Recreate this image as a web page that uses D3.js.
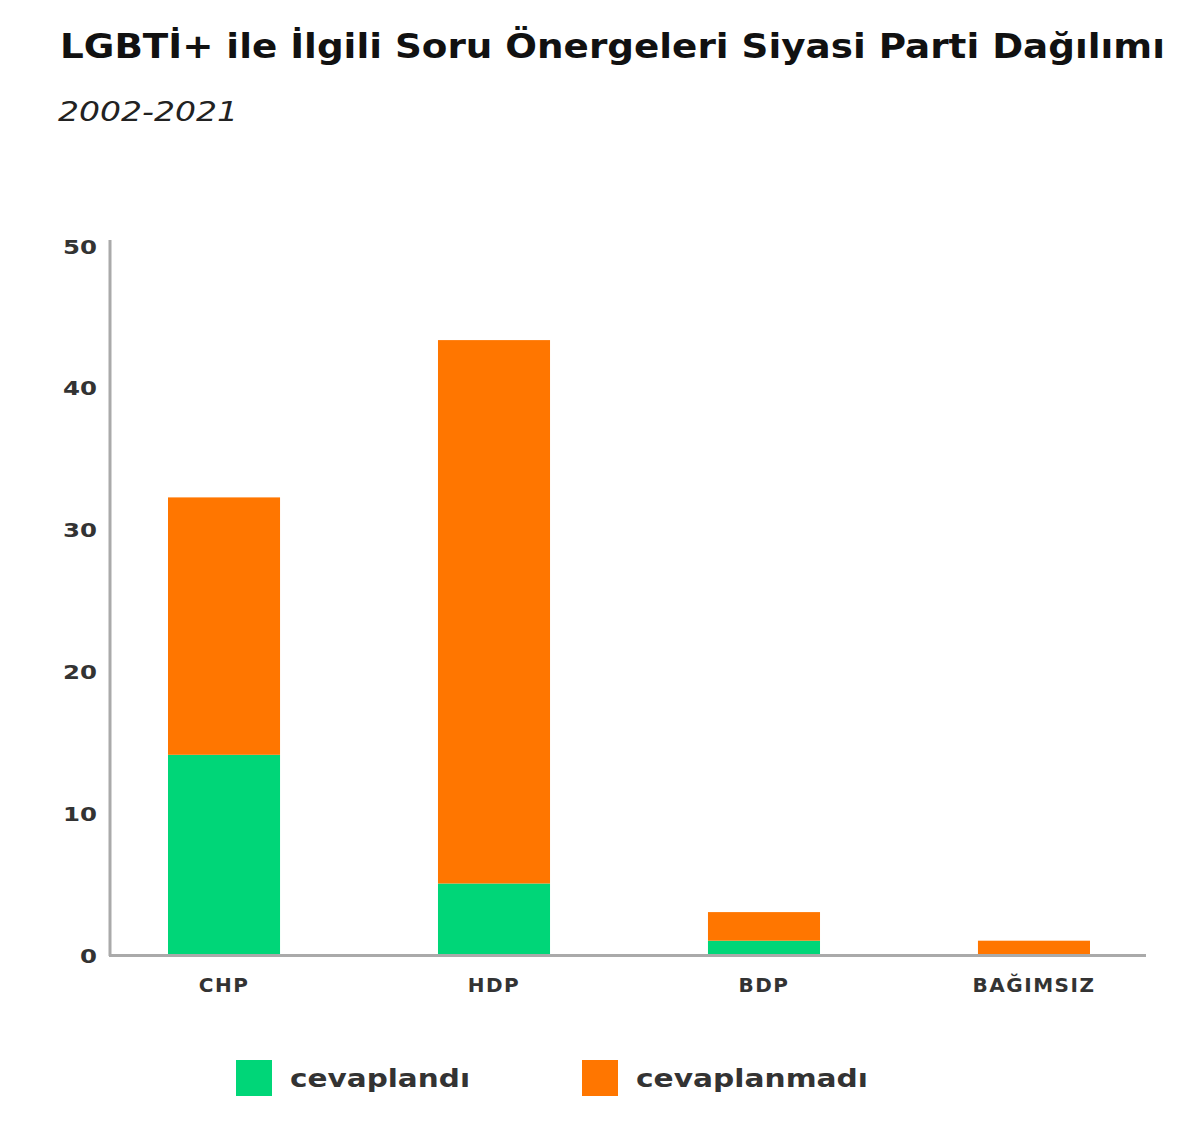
<!DOCTYPE html>
<html><head><meta charset="utf-8">
<script src="https://cdn.jsdelivr.net/npm/d3@7"></script>
<style>body{margin:0;background:#fff;} svg{display:block;}</style>
</head><body>
<svg id="c" width="1200" height="1137"></svg>
<script>
const categories = ["CHP", "HDP", "BDP", "BAĞIMSIZ"];
const answered = [14, 5, 1, 0];
const unanswered = [18, 38, 2, 1];
const seriesNames = ["cevaplandı", "cevaplanmadı"];
const yTicks = [0, 10, 20, 30, 40, 50];
const title = "LGBTİ+ ile İlgili Soru Önergeleri Siyasi Parti Dağılımı";
const subtitle = "2002-2021";

const colors = ["#00d678", "#ff7600"];
const svg = d3.select("#c");
const font = "'DejaVu Sans', sans-serif";

function fit(sel, w){
  const n = sel.node(); const l = n.getComputedTextLength();
  if (l > 0) sel.attr("textLength", w).attr("lengthAdjust", "spacingAndGlyphs");
}

const t = svg.append("text").attr("x", 60).attr("y", 58).text(title)
  .attr("font-family", font).attr("font-weight", "bold").attr("font-size", 34).attr("fill", "#111");
fit(t, 1105);
const st = svg.append("text").attr("x", 58).attr("y", 121).text(subtitle)
  .attr("font-family", font).attr("font-style", "italic").attr("font-size", 27).attr("fill", "#222");
fit(st, 180);

const y = d3.scaleLinear().domain([0, 50]).range([955, 240]);
const x = d3.scaleBand().domain(categories).range([168, 1090]).paddingInner(0.585).paddingOuter(0);

const data = categories.map((c, i) => ({cat: c, cevaplandı: answered[i], cevaplanmadı: unanswered[i]}));
const stack = d3.stack().keys(seriesNames)(data);

svg.append("g").selectAll("g").data(stack).join("g").attr("fill", (d, i) => colors[i])
  .selectAll("rect").data(d => d).join("rect")
  .attr("x", d => x(d.data.cat)).attr("width", x.bandwidth())
  .attr("y", d => y(d[1])).attr("height", d => y(d[0]) - y(d[1]));

// axes lines
svg.append("line").attr("x1", 110).attr("x2", 110).attr("y1", y(50)).attr("y2", 956)
  .attr("stroke", "#aaa").attr("stroke-width", 3);
svg.append("line").attr("x1", 109).attr("x2", 1146).attr("y1", 955.5).attr("y2", 955.5)
  .attr("stroke", "#aaa").attr("stroke-width", 3);

const yAxis = svg.append("g").attr("transform", "translate(97,0)")
  .call(d3.axisLeft(y).tickValues(yTicks).tickSize(0).tickPadding(0));
yAxis.select(".domain").remove();
yAxis.selectAll("text").attr("font-family", font).attr("font-weight", "bold")
  .attr("font-size", 20).attr("fill", "#333").attr("dy", "0.35em")
  .attr("transform", d => `translate(0,${d * 0.12})`)
  .each(function(d){ fit(d3.select(this), String(d).length * 17); });

const xAxis = svg.append("g").attr("transform", "translate(0,985)")
  .call(d3.axisBottom(x).tickSize(0).tickPadding(0));
xAxis.select(".domain").remove();
xAxis.selectAll("text").attr("font-family", font).attr("font-weight", "bold")
  .attr("font-size", 20).attr("letter-spacing", 1.5).attr("fill", "#333").attr("dy", "0.35em");

// legend
const legX = [236, 582];
const leg = svg.append("g").selectAll("g").data(seriesNames).join("g")
  .attr("transform", (d, i) => `translate(${legX[i]},1060)`);
leg.append("rect").attr("width", 36).attr("height", 36).attr("fill", (d, i) => colors[i]);
leg.append("text").attr("x", 54).attr("y", 18).attr("dy", "0.35em").text(d => d)
  .attr("font-family", font).attr("font-weight", "bold").attr("font-size", 25).attr("fill", "#333")
  .each(function(d, i){ fit(d3.select(this), i === 0 ? 180 : 232); });
</script>
</body></html>
